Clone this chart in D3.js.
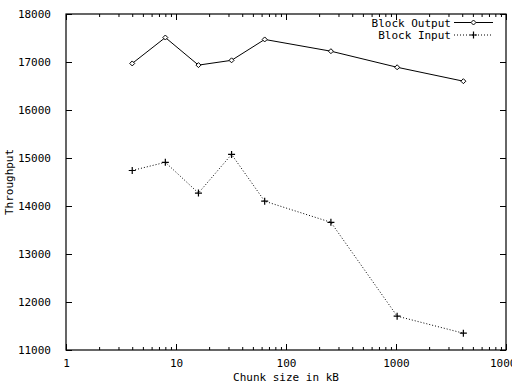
<!DOCTYPE html>
<html>
<head>
<meta charset="utf-8">
<script src="https://cdn.jsdelivr.net/npm/d3@7/dist/d3.min.js"></script>
<style>
  body { margin: 0; background: #fff; }
  text { font-family: 'DejaVu Sans Mono', monospace; font-size: 11px; fill: #000; }
</style>
</head>
<body>
<script>
// chunk sizes in kB
var chunkSizes = [4, 8, 16, 32, 64, 256, 1024, 4096];
var blockOutput = [16970, 17510, 16935, 17035, 17470, 17225, 16890, 16600];
var blockInput = [14740, 14910, 14270, 15075, 14100, 13660, 11705, 11350];
var xMajorTicks = [1, 10, 100, 1000, 10000];
var yTicks = [11000, 12000, 13000, 14000, 15000, 16000, 17000, 18000];

var w = 512, h = 384;
var plotLeft = 66, plotRight = 506, plotTop = 14, plotBottom = 350;

var svg = d3.select('body').append('svg')
  .attr('width', w)
  .attr('height', h);

var x = d3.scaleLog().domain([1, 10000]).range([plotLeft, plotRight]);
var y = d3.scaleLinear().domain([11000, 18000]).range([plotBottom, plotTop]);

var xMinor = x.ticks().filter(function(d) { return xMajorTicks.indexOf(d) < 0; });

function noDomain(g) { g.select('.domain').remove(); }

// bottom axis
svg.append('g')
  .attr('transform', 'translate(0,' + plotBottom + ')')
  .call(d3.axisBottom(x).tickValues(xMajorTicks).tickSize(-6).tickPadding(9).tickFormat(d3.format('d')))
  .call(noDomain);
svg.append('g')
  .attr('transform', 'translate(0,' + plotBottom + ')')
  .call(d3.axisBottom(x).tickValues(xMinor).tickSize(-3).tickFormat(''))
  .call(noDomain);

// top axis (mirror)
svg.append('g')
  .attr('transform', 'translate(0,' + plotTop + ')')
  .call(d3.axisTop(x).tickValues(xMajorTicks).tickSize(-6).tickFormat(''))
  .call(noDomain);
svg.append('g')
  .attr('transform', 'translate(0,' + plotTop + ')')
  .call(d3.axisTop(x).tickValues(xMinor).tickSize(-3).tickFormat(''))
  .call(noDomain);

// left axis
svg.append('g')
  .attr('transform', 'translate(' + plotLeft + ',0)')
  .call(d3.axisLeft(y).tickValues(yTicks).tickSize(-6).tickPadding(15).tickFormat(d3.format('d')))
  .call(noDomain);

// right axis (mirror)
svg.append('g')
  .attr('transform', 'translate(' + plotRight + ',0)')
  .call(d3.axisRight(y).tickValues(yTicks).tickSize(-6).tickFormat(''))
  .call(noDomain);

svg.selectAll('.tick line').attr('stroke', '#000').attr('stroke-width', 1);
svg.selectAll('.tick text').style('font-family', "'DejaVu Sans Mono', monospace").style('font-size', '11px');

// frame
svg.append('rect')
  .attr('x', plotLeft).attr('y', plotTop)
  .attr('width', plotRight - plotLeft).attr('height', plotBottom - plotTop)
  .attr('fill', 'none').attr('stroke', '#000').attr('stroke-width', 1.2);

// axis titles
svg.append('text')
  .attr('x', (plotLeft + plotRight) / 2).attr('y', 381)
  .attr('text-anchor', 'middle')
  .text('Chunk size in kB');

svg.append('text')
  .attr('transform', 'translate(13,' + ((plotTop + plotBottom) / 2) + ') rotate(-90)')
  .attr('text-anchor', 'middle')
  .text('Throughput');

var line = d3.line()
  .x(function(d) { return x(d[0]); })
  .y(function(d) { return y(d[1]); });

var outData = d3.zip(chunkSizes, blockOutput);
var inData = d3.zip(chunkSizes, blockInput);

svg.append('path')
  .datum(outData)
  .attr('d', line)
  .attr('fill', 'none')
  .attr('stroke', '#000')
  .attr('stroke-width', 1);

svg.append('path')
  .datum(inData)
  .attr('d', line)
  .attr('fill', 'none')
  .attr('stroke', '#000')
  .attr('stroke-width', 1)
  .attr('stroke-dasharray', '1,2');

function diamond(g, cx, cy) {
  g.append('path')
    .attr('d', 'M' + (cx - 2.5) + ',' + cy + 'L' + cx + ',' + (cy - 2.5) + 'L' + (cx + 2.5) + ',' + cy + 'L' + cx + ',' + (cy + 2.5) + 'Z')
    .attr('fill', '#fff').attr('stroke', '#000').attr('stroke-width', 1);
}
function plus(g, cx, cy) {
  g.append('path')
    .attr('d', 'M' + (cx - 3.5) + ',' + cy + 'H' + (cx + 3.5) + 'M' + cx + ',' + (cy - 3.5) + 'V' + (cy + 3.5))
    .attr('stroke', '#000').attr('stroke-width', 1.2);
}

var marks = svg.append('g');
outData.forEach(function(d) { diamond(marks, x(d[0]), y(d[1])); });
inData.forEach(function(d) { plus(marks, x(d[0]), y(d[1])); });

// legend
var legend = svg.append('g');
var legendRows = [
  { label: 'Block Output', dash: null, mark: diamond },
  { label: 'Block Input', dash: '1,2', mark: plus }
];
legendRows.forEach(function(r, i) {
  var ly = 22.5 + i * 12.5;
  legend.append('text')
    .attr('x', 451).attr('y', ly + 4)
    .attr('text-anchor', 'end')
    .text(r.label);
  legend.append('line')
    .attr('x1', 454).attr('x2', 493)
    .attr('y1', ly).attr('y2', ly)
    .attr('stroke', '#000').attr('stroke-width', 1)
    .attr('stroke-dasharray', r.dash);
  r.mark(legend, 473.5, ly);
});
</script>
</body>
</html>
